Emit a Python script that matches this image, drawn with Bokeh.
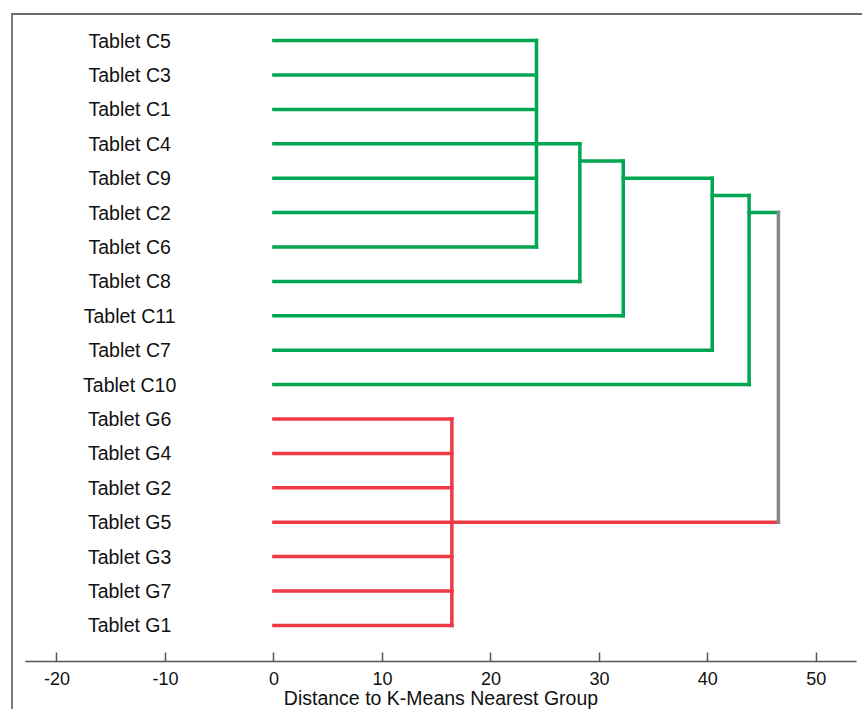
from bokeh.plotting import figure
from bokeh.models import Range1d, SingleIntervalTicker, PrintfTickFormatter
from bokeh.core.properties import value
from bokeh.embed import file_html
from bokeh.resources import INLINE

# ---- data ----
labels = ["Tablet C5", "Tablet C3", "Tablet C1", "Tablet C4", "Tablet C9", "Tablet C2",
          "Tablet C6", "Tablet C8", "Tablet C11", "Tablet C7", "Tablet C10",
          "Tablet G6", "Tablet G4", "Tablet G2", "Tablet G5", "Tablet G3", "Tablet G7", "Tablet G1"]
rows = list(range(len(labels)))

# core green cluster (first 7 tablets) and red cluster (G tablets)
c_core = labels[:7]
c_core_height = 24.2
c_core_node_row = 3.0

# successive merges of the green cluster with single tablets
c_added = ["Tablet C8", "Tablet C11", "Tablet C7", "Tablet C10"]
c_added_heights = [28.2, 32.2, 40.4, 43.8]
c_added_node_rows = [3.5, 4.0, 4.5, 5.0]

g_core = labels[11:]
g_core_height = 16.4
g_core_node_row = 14.0

root_height = 46.5

xticks_interval = 10
x_title = "Distance to K-Means Nearest Group"

GREEN = "#00A651"
RED = "#EE3A45"
GRAY = "#85858D"

# ---- build segments ----
segs = {"x0": [], "y0": [], "x1": [], "y1": [], "c": []}

def seg(x0, y0, x1, y1, c):
    segs["x0"].append(x0); segs["y0"].append(y0)
    segs["x1"].append(x1); segs["y1"].append(y1); segs["c"].append(c)

row_of = {l: r for l, r in zip(labels, rows)}

# green core
for l in c_core:
    seg(0, row_of[l], c_core_height, row_of[l], GREEN)
seg(c_core_height, row_of[c_core[0]], c_core_height, row_of[c_core[-1]], GREEN)
prev_h, prev_row = c_core_height, c_core_node_row
for l, h, nr in zip(c_added, c_added_heights, c_added_node_rows):
    seg(0, row_of[l], h, row_of[l], GREEN)
    seg(prev_h, prev_row, h, prev_row, GREEN)
    seg(h, prev_row, h, row_of[l], GREEN)
    prev_h, prev_row = h, nr
seg(prev_h, prev_row, root_height, prev_row, GREEN)

# red cluster
for l in g_core:
    seg(0, row_of[l], g_core_height, row_of[l], RED)
seg(g_core_height, row_of[g_core[0]], g_core_height, row_of[g_core[-1]], RED)
seg(g_core_height, g_core_node_row, root_height, g_core_node_row, RED)

# root link
seg(root_height, prev_row, root_height, g_core_node_row, GRAY)

# ---- figure ----
p = figure(width=851, height=696, output_backend="svg", toolbar_location=None,
           x_range=Range1d(-22.9, 53.7), y_range=Range1d(18.05, -0.73),
           y_axis_location=None, min_border_left=12, min_border_right=8,
           min_border_top=0, min_border_bottom=50)
p.margin = (13, 0, 0, 11)
p.styles = {"border-left": "2px solid #7a7a7a", "border-top": "2px solid #6a6a6a"}
p.outline_line_color = None
p.xgrid.visible = False
p.ygrid.visible = False
p.background_fill_color = "white"
p.border_fill_color = "white"

p.segment(x0="x0", y0="y0", x1="x1", y1="y1", color="c", source=segs,
          line_width=3.5, line_cap="square")

p.text(x=[-13.3] * len(labels), y=rows, text=labels, text_align="center",
       text_baseline="middle", text_font=value("Liberation Sans"),
       text_font_size="19.5px", text_color="#111111")

ax = p.xaxis[0]
ax.ticker = SingleIntervalTicker(interval=xticks_interval)
ax.formatter = PrintfTickFormatter(format="%d")
ax.minor_tick_line_color = None
ax.major_tick_in = 9
ax.major_tick_out = 0
ax.major_tick_line_color = "#555555"
ax.major_tick_line_width = 1.5
ax.axis_line_color = "#555555"
ax.axis_line_width = 1.5
ax.major_label_standoff = 6
ax.major_label_text_font = "Liberation Sans"
ax.major_label_text_font_size = "18px"
ax.major_label_text_color = "#111111"
ax.axis_label = x_title
ax.axis_label_standoff = -1
ax.axis_label_text_font = "Liberation Sans"
ax.axis_label_text_font_size = "19.5px"
ax.axis_label_text_font_style = "normal"
ax.axis_label_text_color = "#111111"

open("out.html", "w").write(file_html(p, INLINE))
